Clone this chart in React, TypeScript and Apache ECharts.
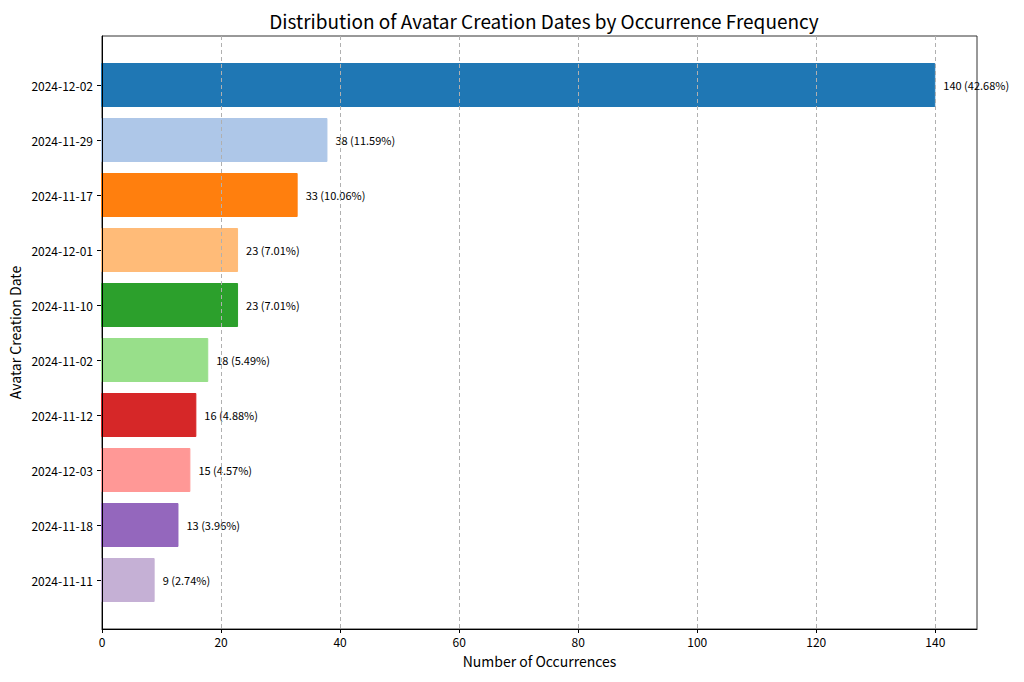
import React, { useEffect, useRef } from "react";
import * as echarts from "echarts";

const categories = [
  "2024-12-02",
  "2024-11-29",
  "2024-11-17",
  "2024-12-01",
  "2024-11-10",
  "2024-11-02",
  "2024-11-12",
  "2024-12-03",
  "2024-11-18",
  "2024-11-11",
];
const counts = [140, 38, 33, 23, 23, 18, 16, 15, 13, 9];
const colors = [
  "#1f77b4",
  "#aec7e8",
  "#ff7f0e",
  "#ffbb78",
  "#2ca02c",
  "#98df8a",
  "#d62728",
  "#ff9896",
  "#9467bd",
  "#c5b0d5",
];
const xMin = 0;
const xMax = 147;
const xStep = 20;

const FONT = "'Noto Sans CJK JP', 'Noto Sans', sans-serif";

export default function App() {
  const ref = useRef<HTMLDivElement>(null);
  useEffect(() => {
    if (!ref.current) return;
    const chart = echarts.init(ref.current, undefined, { renderer: "svg" });
    const total = counts.reduce((a, b) => a + b, 0);
    const L = 101;
    const W = 876;
    chart.setOption({
      animation: false,
      textStyle: { fontFamily: FONT },
      title: {
        text: "Distribution of Avatar Creation Dates by Occurrence Frequency",
        left: L + W / 2,
        textAlign: "center",
        top: 6,
        textStyle: { fontFamily: FONT, fontSize: 19, fontWeight: "normal", color: "#000" },
      },
      grid: [
        { left: L, top: 36, width: W, height: 593, show: true, borderColor: "#333", borderWidth: 1, backgroundColor: "transparent" },
        { left: L, top: 57.5, width: W, height: 550 },
      ],
      xAxis: [
        {
          gridIndex: 0,
          type: "value",
          min: xMin,
          max: xMax,
          interval: xStep,
          z: 5,
          name: "Number of Occurrences",
          nameLocation: "middle",
          nameGap: 25,
          nameTextStyle: { fontFamily: FONT, fontSize: 14, color: "#000" },
          axisLine: { show: true, lineStyle: { color: "#000", width: 1 } },
          axisTick: { show: true, length: 4, lineStyle: { color: "#000" } },
          axisLabel: { color: "#000", fontSize: 12, margin: 6, fontFamily: FONT, showMaxLabel: false },
          splitLine: {
            show: true,
            showMinLine: false,
            showMaxLine: false,
            lineStyle: { color: "#b0b0b0", type: [4, 3], width: 1 },
          },
        },
        {
          gridIndex: 1,
          type: "value",
          min: xMin,
          max: xMax,
          show: false,
          splitLine: { show: false },
        },
      ],
      yAxis: [
        {
          gridIndex: 0,
          type: "value",
          min: 0,
          max: 1,
          z: 6,
          name: "Avatar Creation Date",
          nameLocation: "middle",
          nameGap: 80,
          nameRotate: 90,
          nameTextStyle: { fontFamily: FONT, fontSize: 14, color: "#000" },
          axisLine: { show: true, lineStyle: { color: "#000", width: 1 } },
          axisTick: { show: false },
          axisLabel: { show: false },
          splitLine: { show: false },
        },
        {
          gridIndex: 1,
          type: "category",
          data: categories,
          inverse: true,
          axisLine: { show: false },
          axisTick: { show: true, alignWithLabel: true, length: 4, lineStyle: { color: "#000" } },
          axisLabel: { color: "#000", fontSize: 12, margin: 8, fontFamily: FONT },
        },
      ],
      series: [
        {
          type: "bar",
          xAxisIndex: 1,
          yAxisIndex: 1,
          barWidth: 44,
          data: counts.map((v, i) => ({
            value: v,
            itemStyle: { color: colors[i], borderColor: colors[i], borderWidth: 1 },
          })),
          label: {
            show: true,
            position: "right",
            distance: 8,
            color: "#000",
            fontSize: 11,
            fontFamily: FONT,
            formatter: (p: any) => `${p.value} (${((p.value / total) * 100).toFixed(2)}%)`,
          },
        },
      ],
    });
    return () => chart.dispose();
  }, []);
  return (
    <div
      ref={ref}
      style={{ position: "fixed", left: 0, top: 0, width: 1024, height: 682, background: "#fff" }}
    />
  );
}
